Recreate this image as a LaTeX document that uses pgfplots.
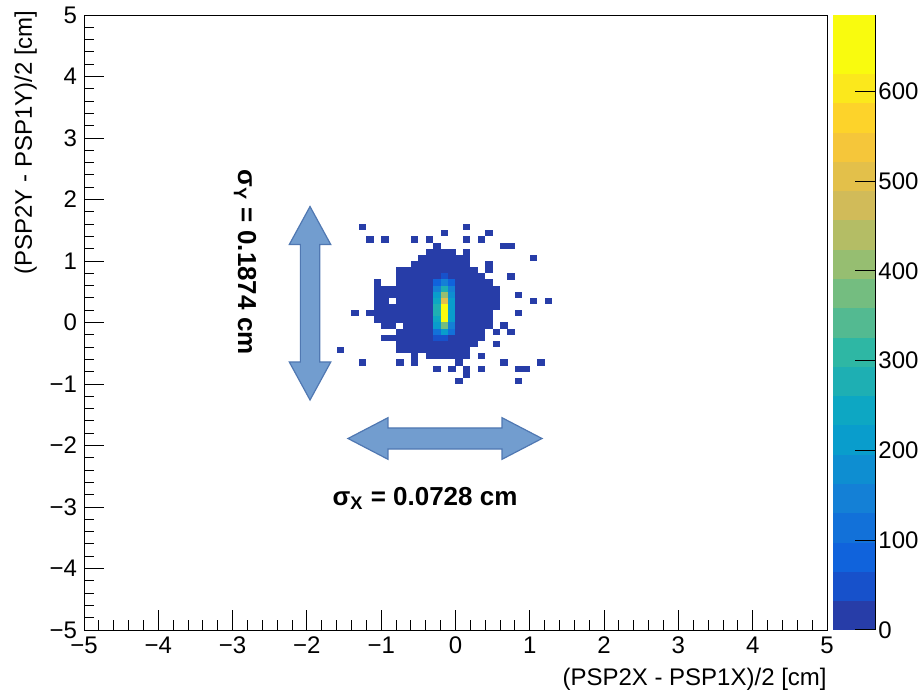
\documentclass[border=0pt]{standalone}
\usepackage{fontspec}
\setmainfont{Liberation Sans}
\usepackage{pgfplots}
\pgfplotsset{compat=1.18}

\definecolor{arrowfill}{RGB}{114,157,207}
\definecolor{arrowline}{RGB}{80,120,178}

% ROOT kBird palette, 20 contour bands (last colour repeated for piecewise constant access)
\pgfplotsset{colormap={rootbird}{
  rgb=(0.1519,0.2395,0.6573) rgb=(0.0909,0.3187,0.7962) rgb=(0.0629,0.3883,0.8625)
  rgb=(0.0700,0.4428,0.8512) rgb=(0.0777,0.5018,0.8390) rgb=(0.0564,0.5584,0.8199)
  rgb=(0.0340,0.6148,0.8007) rgb=(0.0516,0.6556,0.7644) rgb=(0.1158,0.6867,0.7035)
  rgb=(0.1802,0.7178,0.6425) rgb=(0.3237,0.7307,0.5702) rgb=(0.4556,0.7425,0.5038)
  rgb=(0.5869,0.7460,0.4433) rgb=(0.7049,0.7393,0.3957) rgb=(0.8214,0.7337,0.3475)
  rgb=(0.8883,0.7538,0.2896) rgb=(0.9607,0.7757,0.2270) rgb=(0.9915,0.8282,0.1664)
  rgb=(0.9837,0.9087,0.1079) rgb=(0.9764,0.9832,0.0539) rgb=(0.9764,0.9832,0.0539)}}

% one histogram bin: 0.1 x 0.1 in data units (axis 371.5pt x 307.5pt)
\pgfdeclareplotmark{bin}{%
  \pgfpathrectangle{\pgfpoint{-1.88pt}{-1.56pt}}{\pgfpoint{3.76pt}{3.12pt}}%
  \pgfusepathqfill}

\newcommand\lbl{\fontsize{12}{14}\selectfont}

\begin{document}
\begin{tikzpicture}
\begin{axis}[
  scale only axis,
  width=371.5pt, height=307.5pt,
  xmin=-5, xmax=5, ymin=-5, ymax=5,
  xtick={-5,-4,...,5}, ytick={-5,-4,...,5},
  xticklabels={−5,−4,−3,−2,−1,0,1,2,3,4,5},
  yticklabels={−5,−4,−3,−2,−1,0,1,2,3,4,5},
  minor tick num=4,
  tick align=inside,
  tick pos=left,
  major tick length=10pt, minor tick length=5pt,
  tick style={black, line width=0.5pt},
  axis line style={line width=0.5pt},
  tick label style={font=\lbl},
  xlabel={(PSP2X - PSP1X)/2 [cm]},
  ylabel={(PSP2Y - PSP1Y)/2 [cm]},
  label style={font=\lbl, inner sep=0pt},
  xlabel style={at={(axis description cs:1,-0.062)}, anchor=north east},
  ylabel style={at={(axis description cs:-0.063,1.008)}, anchor=south east},
  colormap name=rootbird,
  colormap access=piecewise constant,
  point meta min=0, point meta max=685,
  colorbar,
  colorbar shift/.style={xshift=3pt},
  colorbar style={
    at={(parent axis.north east)}, anchor=north west,
    width=21pt,
    axis x line=none,
    axis y line*=right,
    ytick={0,100,...,600},
    yticklabels={0,100,200,300,400,500,600},
    ytick pos=right, yticklabel pos=right,
    tick align=inside,
    major tick length=10pt,
    minor tick num=0,
    ytick style={black, line width=0.5pt},
    axis line style={line width=0.5pt},
    yticklabel style={font=\lbl, inner sep=1.5pt},
  },
]
\addplot[scatter, only marks, mark=bin, point meta=explicit] coordinates {
(-1.25,1.55)[2] (0.15,1.55)[2]
(-0.15,1.45)[2] (0.45,1.45)[2]
(-1.15,1.35)[2] (-0.95,1.35)[2] (-0.55,1.35)[2] (-0.35,1.35)[2] (0.15,1.35)[2] (0.35,1.35)[2]
(-0.25,1.25)[8] (0.65,1.25)[2] (0.75,1.25)[2]
(-0.35,1.15)[10] (-0.25,1.15)[10] (-0.15,1.15)[10] (-0.05,1.15)[10] (0.15,1.15)[8]
(-0.45,1.05)[10] (-0.35,1.05)[10] (-0.25,1.05)[12] (-0.15,1.05)[12] (-0.05,1.05)[12] (0.05,1.05)[10] (0.15,1.05)[10] (1.05,1.05)[2]
(-0.55,0.95)[10] (-0.45,0.95)[10] (-0.35,0.95)[12] (-0.25,0.95)[15] (-0.15,0.95)[15] (-0.05,0.95)[15] (0.05,0.95)[12] (0.15,0.95)[10] (0.45,0.95)[2]
(-0.75,0.85)[8] (-0.65,0.85)[10] (-0.55,0.85)[10] (-0.45,0.85)[12] (-0.35,0.85)[15] (-0.25,0.85)[18] (-0.15,0.85)[20] (-0.05,0.85)[18] (0.05,0.85)[15] (0.15,0.85)[12] (0.25,0.85)[8] (0.45,0.85)[2]
(-0.75,0.75)[8] (-0.65,0.75)[10] (-0.55,0.75)[12] (-0.45,0.75)[15] (-0.35,0.75)[18] (-0.25,0.75)[25] (-0.15,0.75)[40] (-0.05,0.75)[25] (0.05,0.75)[18] (0.15,0.75)[12] (0.25,0.75)[10] (0.35,0.75)[8] (0.75,0.75)[2]
(-1.05,0.65)[3] (-0.75,0.65)[8] (-0.65,0.65)[10] (-0.55,0.65)[12] (-0.45,0.65)[15] (-0.35,0.65)[22] (-0.25,0.65)[90] (-0.15,0.65)[150] (-0.05,0.65)[80] (0.05,0.65)[22] (0.15,0.65)[15] (0.25,0.65)[12] (0.35,0.65)[10] (0.45,0.65)[8]
(-1.05,0.55)[5] (-0.95,0.55)[8] (-0.85,0.55)[8] (-0.75,0.55)[10] (-0.65,0.55)[12] (-0.55,0.55)[15] (-0.45,0.55)[18] (-0.35,0.55)[25] (-0.25,0.55)[160] (-0.15,0.55)[280] (-0.05,0.55)[140] (0.05,0.55)[25] (0.15,0.55)[18] (0.25,0.55)[15] (0.35,0.55)[12] (0.45,0.55)[10] (0.55,0.55)[6]
(-1.05,0.45)[5] (-0.95,0.45)[8] (-0.85,0.45)[10] (-0.75,0.45)[12] (-0.65,0.45)[15] (-0.55,0.45)[18] (-0.45,0.45)[20] (-0.35,0.45)[28] (-0.25,0.45)[220] (-0.15,0.45)[400] (-0.05,0.45)[180] (0.05,0.45)[28] (0.15,0.45)[20] (0.25,0.45)[18] (0.35,0.45)[15] (0.45,0.45)[10] (0.55,0.45)[6] (0.85,0.45)[2]
(-1.05,0.35)[5] (-0.95,0.35)[8] (-0.75,0.35)[12] (-0.65,0.35)[15] (-0.55,0.35)[18] (-0.45,0.35)[22] (-0.35,0.35)[30] (-0.25,0.35)[260] (-0.15,0.35)[520] (-0.05,0.35)[210] (0.05,0.35)[30] (0.15,0.35)[22] (0.25,0.35)[18] (0.35,0.35)[15] (0.45,0.35)[12] (0.55,0.35)[6] (1.05,0.35)[2] (1.25,0.35)[2]
(-1.05,0.25)[5] (-0.95,0.25)[8] (-0.85,0.25)[10] (-0.75,0.25)[12] (-0.65,0.25)[15] (-0.55,0.25)[18] (-0.45,0.25)[22] (-0.35,0.25)[30] (-0.25,0.25)[280] (-0.15,0.25)[620] (-0.05,0.25)[220] (0.05,0.25)[30] (0.15,0.25)[22] (0.25,0.25)[18] (0.35,0.25)[15] (0.45,0.25)[12] (0.55,0.25)[6]
(-1.35,0.15)[2] (-1.15,0.15)[2] (-1.05,0.15)[5] (-0.95,0.15)[8] (-0.85,0.15)[10] (-0.75,0.15)[12] (-0.65,0.15)[15] (-0.55,0.15)[18] (-0.45,0.15)[22] (-0.35,0.15)[30] (-0.25,0.15)[280] (-0.15,0.15)[685] (-0.05,0.15)[220] (0.05,0.15)[30] (0.15,0.15)[22] (0.25,0.15)[18] (0.35,0.15)[12] (0.45,0.15)[8] (0.85,0.15)[2]
(-1.05,0.05)[5] (-0.95,0.05)[8] (-0.85,0.05)[10] (-0.75,0.05)[12] (-0.65,0.05)[15] (-0.55,0.05)[18] (-0.45,0.05)[20] (-0.35,0.05)[28] (-0.25,0.05)[260] (-0.15,0.05)[660] (-0.05,0.05)[200] (0.05,0.05)[28] (0.15,0.05)[20] (0.25,0.05)[15] (0.35,0.05)[12] (0.45,0.05)[8]
(-0.95,-0.05)[6] (-0.85,-0.05)[8] (-0.65,-0.05)[12] (-0.55,-0.05)[15] (-0.45,-0.05)[18] (-0.35,-0.05)[25] (-0.25,-0.05)[200] (-0.15,-0.05)[380] (-0.05,-0.05)[160] (0.05,-0.05)[25] (0.15,-0.05)[18] (0.25,-0.05)[15] (0.35,-0.05)[10] (0.45,-0.05)[6] (0.65,-0.05)[2]
(-0.75,-0.15)[8] (-0.65,-0.15)[10] (-0.55,-0.15)[12] (-0.45,-0.15)[15] (-0.35,-0.15)[20] (-0.25,-0.15)[120] (-0.15,-0.15)[200] (-0.05,-0.15)[100] (0.05,-0.15)[20] (0.15,-0.15)[15] (0.25,-0.15)[12] (0.35,-0.15)[8] (0.55,-0.15)[2] (0.75,-0.15)[2]
(-0.95,-0.25)[3] (-0.85,-0.25)[5] (-0.75,-0.25)[8] (-0.65,-0.25)[10] (-0.55,-0.25)[12] (-0.45,-0.25)[15] (-0.35,-0.25)[18] (-0.25,-0.25)[40] (-0.15,-0.25)[60] (-0.05,-0.25)[30] (0.05,-0.25)[18] (0.15,-0.25)[12] (0.25,-0.25)[10] (0.35,-0.25)[6]
(-0.75,-0.35)[6] (-0.65,-0.35)[8] (-0.55,-0.35)[10] (-0.45,-0.35)[12] (-0.35,-0.35)[15] (-0.25,-0.35)[18] (-0.15,-0.35)[20] (-0.05,-0.35)[18] (0.05,-0.35)[15] (0.15,-0.35)[10] (0.25,-0.35)[6] (0.55,-0.35)[2]
(-1.55,-0.45)[2] (-0.75,-0.45)[5] (-0.65,-0.45)[6] (-0.55,-0.45)[8] (-0.45,-0.45)[10] (-0.35,-0.45)[12] (-0.25,-0.45)[12] (-0.15,-0.45)[12] (-0.05,-0.45)[10] (0.05,-0.45)[8] (0.15,-0.45)[5]
(-0.55,-0.55)[5] (-0.35,-0.55)[6] (-0.25,-0.55)[8] (-0.15,-0.55)[8] (-0.05,-0.55)[8] (0.05,-0.55)[6] (0.15,-0.55)[4] (0.35,-0.55)[2]
(-1.25,-0.65)[2] (-0.75,-0.65)[2] (-0.55,-0.65)[3] (0.05,-0.65)[3] (0.65,-0.65)[2] (1.15,-0.65)[2]
(-0.25,-0.75)[2] (-0.05,-0.75)[2] (0.15,-0.75)[2] (0.35,-0.75)[2] (0.85,-0.75)[2] (0.95,-0.75)[2]
(0.15,-0.85)[2]
(0.05,-0.95)[2] (0.85,-0.95)[2]
};
% sigma_y arrow
\draw[arrowline, fill=arrowfill, line width=0.6pt]
  (axis cs:-1.958,1.886) -- (axis cs:-1.679,1.268) -- (axis cs:-1.828,1.268)
  -- (axis cs:-1.828,-0.642) -- (axis cs:-1.679,-0.642) -- (axis cs:-1.958,-1.260)
  -- (axis cs:-2.237,-0.642) -- (axis cs:-2.088,-0.642) -- (axis cs:-2.088,1.268)
  -- (axis cs:-2.237,1.268) -- cycle;
% sigma_x arrow
\draw[arrowline, fill=arrowfill, line width=0.6pt]
  (axis cs:-1.447,-1.886) -- (axis cs:-0.909,-1.548) -- (axis cs:-0.909,-1.715)
  -- (axis cs:0.626,-1.715) -- (axis cs:0.626,-1.548) -- (axis cs:1.164,-1.886)
  -- (axis cs:0.626,-2.224) -- (axis cs:0.626,-2.057) -- (axis cs:-0.909,-2.057)
  -- (axis cs:-0.909,-2.224) -- cycle;
\node[font=\bfseries\fontsize{13}{15}\selectfont] at (axis cs:-0.41,-2.86)
  {σ\textsubscript{X} = 0.0728 cm};
\node[rotate=-90, font=\bfseries\fontsize{13}{15}\selectfont] at (axis cs:-2.833,0.98)
  {σ\textsubscript{Y} = 0.1874 cm};
\end{axis}
\pgfresetboundingbox
\path (-42pt,-31.5pt) rectangle (420pt,315pt);
\end{tikzpicture}
\end{document}
